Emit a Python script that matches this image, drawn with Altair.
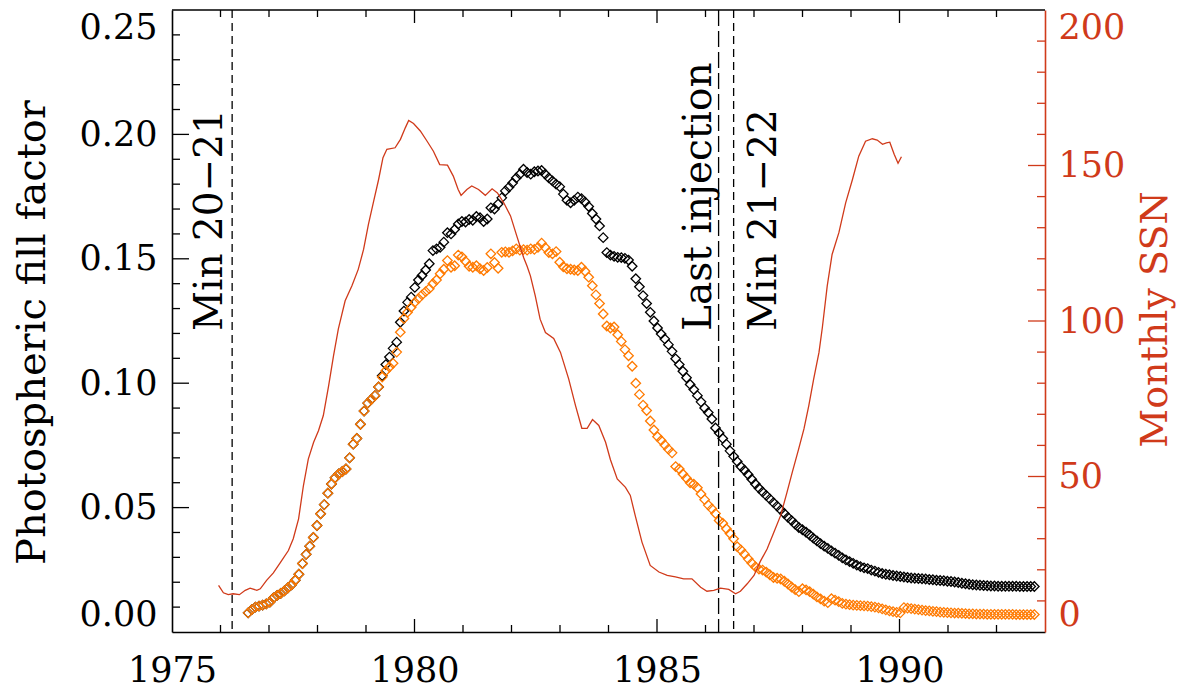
import altair as alt
import pandas as pd

# ---------------- data ----------------
# fill-factor samples: one per Carrington rotation starting 1976.57
ff_start = 1976.57
ff_step = 0.0747
total_ff = [
    0.0077, 0.0090, 0.0100, 0.0104, 0.0108, 0.0113, 0.0120, 0.0137, 0.0147, 0.0155,
    0.0165, 0.0178, 0.0190, 0.0208, 0.0232, 0.0275, 0.0312, 0.0345, 0.0380, 0.0428,
    0.0475, 0.0512, 0.0558, 0.0595, 0.0620, 0.0635, 0.0645, 0.0655, 0.0700, 0.0755,
    0.0778, 0.0835, 0.0888, 0.0920, 0.0935, 0.0950, 0.0985, 0.1030, 0.1075, 0.1105,
    0.1140, 0.1165, 0.1245, 0.1290, 0.1325, 0.1346, 0.1385, 0.1415, 0.1433, 0.1455,
    0.1480, 0.1533, 0.1540, 0.1546, 0.1567, 0.1605, 0.1600, 0.1618, 0.1640, 0.1650,
    0.1648, 0.1658, 0.1655, 0.1670, 0.1665, 0.1650, 0.1660, 0.1705, 0.1700, 0.1720,
    0.1745, 0.1773, 0.1788, 0.1805, 0.1825, 0.1840, 0.1860, 0.1847, 0.1840, 0.1850,
    0.1853, 0.1855, 0.1840, 0.1825, 0.1813, 0.1800, 0.1790, 0.1760, 0.1735, 0.1725,
    0.1735, 0.1748, 0.1742, 0.1728, 0.1710, 0.1682, 0.1660, 0.1632, 0.1585, 0.1525,
    0.1515, 0.1510, 0.1506, 0.1505, 0.1502, 0.1495, 0.1470, 0.1420, 0.1388, 0.1352,
    0.1320, 0.1285, 0.1250, 0.1222, 0.1198, 0.1178, 0.1155, 0.1128, 0.1098, 0.1075,
    0.1048, 0.1022, 0.0995, 0.0975, 0.0950, 0.0925, 0.0900, 0.0882, 0.0856, 0.0820,
    0.0800, 0.0778, 0.0755, 0.0728, 0.0706, 0.0685, 0.0665, 0.0650, 0.0633, 0.0614,
    0.0595, 0.0578, 0.0563, 0.0549, 0.0535, 0.0520, 0.0506, 0.0491, 0.0476, 0.0461,
    0.0448, 0.0433, 0.0420, 0.0411, 0.0401, 0.0390, 0.0377, 0.0366, 0.0355, 0.0345,
    0.0336, 0.0326, 0.0317, 0.0308, 0.0298, 0.0290, 0.0283, 0.0276, 0.0269, 0.0263,
    0.0258, 0.0255, 0.0249, 0.0245, 0.0240, 0.0235, 0.0232, 0.0230, 0.0227, 0.0225,
    0.0223, 0.0221, 0.0219, 0.0217, 0.0216, 0.0215, 0.0214, 0.0213, 0.0211, 0.0210,
    0.0208, 0.0207, 0.0206, 0.0204, 0.0203, 0.0201, 0.0199, 0.0196, 0.0194, 0.0192,
    0.0190, 0.0189, 0.0188, 0.0187, 0.0186, 0.0185, 0.0185, 0.0184, 0.0184, 0.0184,
    0.0184, 0.0184, 0.0184, 0.0183, 0.0183, 0.0183, 0.0183, 0.0183,
]
orange_ff = [
    0.0077, 0.0090, 0.0100, 0.0104, 0.0108, 0.0113, 0.0120, 0.0137, 0.0147, 0.0155,
    0.0165, 0.0178, 0.0190, 0.0208, 0.0232, 0.0275, 0.0312, 0.0345, 0.0380, 0.0428,
    0.0475, 0.0512, 0.0558, 0.0595, 0.0620, 0.0635, 0.0645, 0.0655, 0.0700, 0.0755,
    0.0778, 0.0835, 0.0888, 0.0920, 0.0935, 0.0950, 0.0985, 0.1025, 0.1050, 0.1065,
    0.1080, 0.1125, 0.1205, 0.1260, 0.1285, 0.1305, 0.1325, 0.1340, 0.1355, 0.1368,
    0.1380, 0.1400, 0.1415, 0.1440, 0.1458, 0.1493, 0.1466, 0.1472, 0.1515, 0.1508,
    0.1490, 0.1470, 0.1466, 0.1472, 0.1460, 0.1453, 0.1465, 0.1520, 0.1485, 0.1462,
    0.1526, 0.1528, 0.1526, 0.1532, 0.1540, 0.1535, 0.1537, 0.1535, 0.1540, 0.1538,
    0.1546, 0.1563, 0.1545, 0.1525, 0.1520, 0.1529, 0.1486, 0.1468, 0.1460, 0.1458,
    0.1455, 0.1453, 0.1466, 0.1450, 0.1426, 0.1392, 0.1355, 0.1320, 0.1278, 0.1230,
    0.1222, 0.1226, 0.1195, 0.1168, 0.1135, 0.1110, 0.1068, 0.1000, 0.0955, 0.0912,
    0.0890, 0.0848, 0.0812, 0.0785, 0.0770, 0.0752, 0.0735, 0.0720, 0.0665, 0.0655,
    0.0635, 0.0618, 0.0600, 0.0594, 0.0580, 0.0555, 0.0532, 0.0510, 0.0495, 0.0476,
    0.0448, 0.0437, 0.0415, 0.0396, 0.0375, 0.0343, 0.0330, 0.0313, 0.0294, 0.0277,
    0.0262, 0.0253, 0.0249, 0.0241, 0.0230, 0.0219, 0.0216, 0.0213, 0.0204, 0.0193,
    0.0181, 0.0170, 0.0162, 0.0174, 0.0169, 0.0162, 0.0152, 0.0141, 0.0133, 0.0124,
    0.0118, 0.0134, 0.0128, 0.0122, 0.0115, 0.0112, 0.0110, 0.0108, 0.0107, 0.0106,
    0.0105, 0.0104, 0.0102, 0.0100, 0.0097, 0.0093, 0.0089, 0.0085, 0.0082, 0.0079,
    0.0077, 0.0098, 0.0096, 0.0094, 0.0092, 0.0090, 0.0088, 0.0086, 0.0085, 0.0083,
    0.0082, 0.0080, 0.0079, 0.0078, 0.0077, 0.0076, 0.0076, 0.0075, 0.0074, 0.0073,
    0.0073, 0.0072, 0.0072, 0.0072, 0.0071, 0.0071, 0.0071, 0.0071, 0.0071, 0.0071,
    0.0071, 0.0071, 0.0070, 0.0070, 0.0070, 0.0070, 0.0070, 0.0070,
]
ff_years = [round(ff_start + ff_step * i, 4) for i in range(len(total_ff))]

# monthly sunspot number (smoothed)
ssn_years = [
    1975.96, 1976.06, 1976.16, 1976.26, 1976.39, 1976.51, 1976.61, 1976.75, 1976.82, 1976.95,
    1977.09, 1977.23, 1977.40, 1977.50, 1977.61, 1977.71, 1977.81, 1977.92, 1978.02,
    1978.12, 1978.23, 1978.33, 1978.43, 1978.57, 1978.71, 1978.84, 1978.95,
    1979.05, 1979.15, 1979.26, 1979.35, 1979.43, 1979.60, 1979.71, 1979.81, 1979.88, 1979.98,
    1980.12, 1980.26, 1980.39, 1980.52, 1980.68, 1980.80, 1980.90, 1980.96,
    1981.08, 1981.18, 1981.32, 1981.46, 1981.60, 1981.71, 1981.84, 1981.98,
    1982.11, 1982.25, 1982.32, 1982.39, 1982.49, 1982.59, 1982.70, 1982.87,
    1983.01, 1983.18, 1983.32, 1983.45, 1983.56, 1983.67, 1983.80, 1983.94,
    1984.04, 1984.18, 1984.35, 1984.45, 1984.55, 1984.69, 1984.86,
    1985.04, 1985.21, 1985.38, 1985.55, 1985.72, 1985.90,
    1986.03, 1986.17, 1986.31, 1986.48, 1986.62, 1986.72, 1986.86,
    1987.00, 1987.13, 1987.27, 1987.41, 1987.55, 1987.68, 1987.79, 1987.92,
    1988.03, 1988.13, 1988.23, 1988.34, 1988.41, 1988.51, 1988.61, 1988.75, 1988.89,
    1989.03, 1989.16, 1989.30, 1989.44, 1989.54, 1989.65, 1989.73, 1989.80, 1989.89, 1989.97,
    1990.04,
]
ssn_values = [
    15.0, 12.6, 12.0, 12.3, 12.0, 13.4, 14.1, 13.4, 13.9, 16.6,
    19.0, 22.2, 26.2, 30.0, 36.4, 47.1, 55.6, 61.0, 64.7,
    69.6, 79.2, 88.8, 97.5, 106.5, 111.3, 116.6, 123.0,
    131.1, 138.0, 145.5, 152.5, 155.2, 155.7, 158.4, 162.1, 164.5, 163.5,
    161.1, 157.8, 154.6, 150.3, 150.1, 146.6, 142.3, 140.4,
    142.3, 143.4, 142.3, 140.4, 142.5, 141.2, 138.0, 133.8,
    127.3, 120.4, 117.7, 114.5, 108.1, 100.6, 96.3, 94.4,
    89.9, 81.3, 72.8, 65.5, 65.5, 68.3, 66.4, 61.0,
    55.4, 49.2, 46.5, 43.9, 37.5, 28.9, 21.4,
    19.3, 18.2, 17.7, 17.1, 17.1, 14.4,
    13.1, 13.4, 14.1, 13.7, 12.3, 13.1, 15.5,
    18.2, 22.7, 26.7, 32.1, 37.5, 44.9, 51.4, 58.8,
    65.3, 72.8, 81.3, 89.9, 98.0, 111.3, 121.4, 128.4, 138.0,
    145.5, 153.0, 157.8, 158.6, 158.2, 156.8, 157.3, 157.5, 153.6, 150.7,
    152.8,
]

# event markers
event_labels = ["Min 20\u221221", "Last injection", "Min 21\u221222"]
event_years = [1976.24, 1986.27, 1986.58]
label_level = 0.121   # fill-factor level where the rotated labels start

# axis tick values
x_major = [1980, 1985, 1990]
x_minor = [1976, 1977, 1978, 1979, 1981, 1982, 1983, 1984, 1986, 1987, 1988, 1989, 1991, 1992]
x_labels = [1975, 1980, 1985, 1990]
ff_major = [0.05, 0.10, 0.15, 0.20]
ff_minor = [0.01, 0.02, 0.03, 0.04, 0.06, 0.07, 0.08, 0.09, 0.11, 0.12, 0.13, 0.14,
            0.16, 0.17, 0.18, 0.19, 0.21, 0.22, 0.23, 0.24]
ff_labels = [0.0, 0.05, 0.10, 0.15, 0.20, 0.25]
ssn_major = [50, 100, 150]
ssn_minor = [10, 20, 30, 40, 60, 70, 80, 90, 110, 120, 130, 140, 160, 170, 180, 190]
ssn_labels = [0, 50, 100, 150, 200]

# ---------------- styling ----------------
W, H = 873, 622
RED = "#d03a1a"
ORANGE = "#ff7a00"
FONT = "DejaVu Serif"

xs = alt.Scale(domain=[1975, 1993], nice=False, zero=False)
ys = alt.Scale(domain=[0, 0.25], nice=False, zero=False)
ys2 = alt.Scale(domain=[0, 200], nice=False, zero=False)

ff_df = pd.DataFrame({"year": ff_years, "total": total_ff, "orange": orange_ff})
ssn_df = pd.DataFrame({"year": ssn_years, "ssn": ssn_values})
ev_df = pd.DataFrame({"year": event_years, "label": event_labels,
                      "lev": [label_level] * 3})

x_axis = alt.Axis(values=x_labels, format="d", ticks=False, grid=False,
                  labelPadding=21, labelFlush=False, domainColor="black",
                  domainWidth=1.6, title=None, labelFontSize=35)

left_axis = alt.Axis(
    values=ff_labels, format=".2f", ticks=False, grid=False, labelPadding=15,
    labelFlush=True, domainColor="black", domainWidth=1.6,
    title="Photospheric fill factor", titleAngle=270, titleX=-140, titleY=322,
    titleAlign="center", titleBaseline="middle", titleFontSize=40,
    labelFontSize=35)

right_axis = alt.Axis(
    orient="right", values=ssn_labels, format="d", ticks=False, grid=False,
    labelPadding=13, labelFlush=True, labelColor=RED, domainColor=RED,
    domainWidth=1.6, title="Monthly SSN", titleColor=RED, titleAngle=270,
    titleX=110, titleY=309, titleAlign="center", titleBaseline="middle",
    titleFontSize=38, labelFontSize=35)

black_pts = alt.Chart(ff_df).mark_point(
    shape="diamond", size=90, filled=False, color="black", strokeWidth=1.3, opacity=1
).encode(
    x=alt.X("year:Q", scale=xs, axis=x_axis),
    y=alt.Y("total:Q", scale=ys, axis=left_axis),
)

orange_pts = alt.Chart(ff_df).mark_point(
    shape="diamond", size=90, filled=False, color=ORANGE, strokeWidth=1.3, opacity=1
).encode(
    x=alt.X("year:Q", scale=xs, axis=x_axis),
    y=alt.Y("orange:Q", scale=ys, axis=left_axis),
)

def vline(i, dash):
    d = ev_df.iloc[[i]]
    return alt.Chart(d).mark_rule(color="black", strokeWidth=1.3, strokeDash=dash).encode(
        x=alt.X("year:Q", scale=xs, axis=x_axis))

def vtext(i, shift):
    d = ev_df.iloc[[i]]
    # with angle 270, dy moves the label horizontally on screen
    return alt.Chart(d).mark_text(
        angle=270, align="left", baseline="alphabetic", dy=shift,
        font=FONT, fontSize=39, color="black"
    ).encode(
        x=alt.X("year:Q", scale=xs, axis=x_axis),
        y=alt.Y("lev:Q", scale=ys, axis=left_axis),
        text="label:N",
    )

def xticks(vals, y0, y1):
    return alt.Chart(pd.DataFrame({"t": vals})).mark_rule(color="black", strokeWidth=1.3).encode(
        x=alt.X("t:Q", scale=xs, axis=x_axis), y=alt.value(y0), y2=alt.value(y1))

def yticks(vals, scale, axis, x0, x1, color):
    return alt.Chart(pd.DataFrame({"v": vals})).mark_rule(color=color, strokeWidth=1.3).encode(
        y=alt.Y("v:Q", scale=scale, axis=axis), x=alt.value(x0), x2=alt.value(x1))

top_line = alt.Chart(pd.DataFrame({"t": [1975]})).mark_rule(color="black", strokeWidth=1.6).encode(
    x=alt.value(0), x2=alt.value(W), y=alt.value(0))

left_group = alt.layer(
    black_pts, orange_pts,
    vline(0, [8, 5]), vline(1, [16, 5]), vline(2, [8, 5]),
    vtext(0, -10), vtext(1, -8), vtext(2, 42),
    xticks(x_minor, H, H - 7), xticks(x_major, H, H - 13),
    xticks(x_minor, 0, 7), xticks(x_major, 0, 13),
    yticks(ff_minor, ys, left_axis, 0, 8, "black"),
    yticks(ff_major, ys, left_axis, 0, 17, "black"),
    top_line,
)

ssn_line = alt.Chart(ssn_df).mark_line(color=RED, strokeWidth=1.3).encode(
    x=alt.X("year:Q", scale=xs, axis=x_axis),
    y=alt.Y("ssn:Q", scale=ys2, axis=right_axis),
)

right_group = alt.layer(
    yticks(ssn_minor, ys2, right_axis, W, W - 8, RED),
    yticks(ssn_major, ys2, right_axis, W, W - 17, RED),
    ssn_line,
)

chart = alt.layer(left_group, right_group).resolve_scale(y="independent").properties(
    width=W, height=H,
    autosize=alt.AutoSizeParams(type="none"),
    padding={"left": 164, "top": 2, "right": 131, "bottom": 56},
).configure_axis(
    labelFont=FONT, titleFont=FONT, labelColor="black", titleColor="black",
    titleFontWeight="normal", labelFontWeight="normal",
).configure_view(stroke=None)

chart.save("out.html", embed_options={"renderer": "svg", "actions": False})
